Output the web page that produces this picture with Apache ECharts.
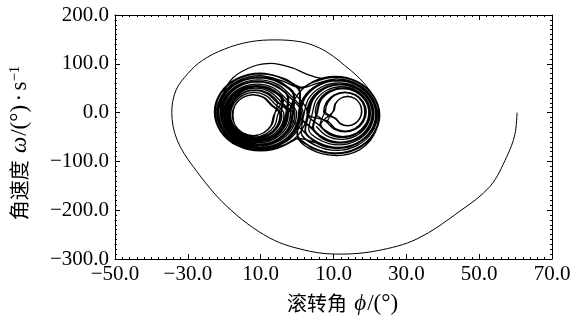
<!DOCTYPE html>
<html>
<head>
<meta charset="utf-8">
<script src="https://cdn.jsdelivr.net/npm/echarts@6/dist/echarts.min.js"></script>
<style>
html,body{margin:0;padding:0;background:#fff;}
#chart{width:579px;height:320px;}
</style>
</head>
<body>
<div id="chart"></div>
<script>
// Axis ranges and tick labels (as printed in the reference)
const xMin = -50, xMax = 70, xStep = 20;
const yMin = -300, yMax = 200, yStep = 100;
const xTickLabels = ['−50.0', '−30.0', '10.0', '10.0', '30.0', '50.0', '70.0'];
const yTickLabels = ['−300.0', '−200.0', '−100.0', '0.0', '100.0', '200.0'];

// Trajectory (roll angle phi [deg], angular velocity omega [deg/s])
const spiralIn = [
  [60.4,0],[59.8,-45],[57.6,-90],[53,-151],[44.7,-202],[32.9,-259],[22,-283],[12,-290],
  [3.4,-284],[-7.5,-257],[-19.3,-192],[-28.6,-110],[-33,-55],[-34.4,0],[-33.3,45],[-30,80],
  [-26,107],[-20,130],[-13,145],[-6,149],[1,145],[6,133],[10,115],[13,97],[16.5,75],
  [19.5,50],[21.5,25],[22.6,0],
  [20.89,-44],[16.5,-72.5],[10.5,-83],[4.5,-72.5],[0,-53]
];
const leftPassA = [
  [-3.75,-67.4],[-10,-78],[-16.25,-67.4],[-20.83,-38.5],[-22.5,1],[-20.83,40.5],[-16.25,69.4],[-10,80],[-3.75,69.4],[0.83,40.5],
  [0.76,-0.2],[-0.74,-36],[-4.82,-62.2],[-10.4,-71.8],[-15.98,-62.2],[-20.06,-36],[-21.56,-0.2],[-20.06,35.6],[-15.98,61.8],[-10.4,71.4],[-4.82,61.8],[-0.74,35.6],
  [-0.98,-1.4],[-2.3,-33.5],[-5.89,-57],[-10.8,-65.6],[-15.71,-57],[-19.3,-33.5],[-20.62,-1.4],[-19.3,30.7],[-15.71,54.2],[-10.8,62.8],[-5.89,54.2],[-2.3,30.7],
  [-2.72,-2.6],[-3.86,-31],[-6.96,-51.8],[-11.2,-59.4],[-15.44,-51.8],[-18.54,-31],[-19.68,-2.6],[-18.54,25.8],[-15.44,46.6],[-11.2,54.2],[-6.96,46.6],[-3.86,25.8],
  [-4.46,-3.8],[-5.42,-28.5],[-8.03,-46.6],[-11.6,-53.2],[-15.17,-46.6],[-17.78,-28.5],[-18.74,-3.8],[-17.78,20.9],[-15.17,39],[-11.6,45.6],[-8.03,39],[-5.42,20.9],
  [-6.2,-5],[-6.98,-26],[-9.1,-41.4],[-12,-47],[-14.9,-41.4],[-17.02,-26],[-17.8,-5],[-17.02,16],[-14.9,31.4],[-12,37],[-9.1,31.4],[-6.98,16],
  [-4.2,-4.3],[-5.2,-29],[-7.9,-47.3],[-11.5,-54],[-15.3,-47.3],[-17.9,-28.8],[-18.9,-4],[-17.9,21.4],[-15.2,39.8],[-11.5,46.5],[-7.9,39.8],[-5.2,21.4],
  [-2.4,-2.4],[-3.6,-31.6],[-6.8,-52.6],[-11.1,-60.2],[-15.5,-52.6],[-18.7,-31.4],[-19.9,-2.4],[-18.7,26.6],[-15.5,47.6],[-11.1,55.2],[-6.8,47.6],[-3.6,26.6],
  [-0.6,-1.2],[-2,-34.2],[-5.7,-58],[-10.7,-66.8],[-15.8,-58],[-19.5,-34],[-20.9,-1.2],[-19.5,31.4],[-15.8,55.2],[-10.7,64],[-5.7,55.2],[-2,31.4],
  [1.2,0],[-0.4,-36.8],[-4.6,-63.4],[-10.3,-73.2],[-16.1,-63.4],[-20.3,-36.6],[-21.9,0],[-20.3,36.4],[-16.1,63],[-10.3,72.8],[-4.6,63],[-0.4,36.4],
  [2.8,1.2],[1,-38.8],[-3.6,-68],[-10,-78.6],[-16.4,-68],[-21,-38.8],[-22.7,1.2],[-21,41],[-16.4,70],[-10,80.6],[-3.6,70],[1.5,52]
];
const rightPassA = [
  [4.5,62.5],[10.5,73],[16.5,62.5],[20.89,34],[22.5,-5],[20.89,-44],[16.5,-72.5],[10.5,-83],[4.5,-72.5],[0.11,-44],
  [0.78,-3.4],[2.17,30.8],[5.97,55.8],[11.17,65],[16.37,55.8],[20.17,30.8],[21.56,-3.4],[20.17,-37.6],[16.37,-62.6],[11.17,-71.8],[5.97,-62.6],[2.17,-37.6],
  [3.06,-1.8],[4.24,27.6],[7.45,49.1],[11.84,57],[16.23,49.1],[19.44,27.6],[20.62,-1.8],[19.44,-31.2],[16.23,-52.7],[11.84,-60.6],[7.45,-52.7],[4.24,-31.2],
  [5.34,-0.2],[6.3,24.4],[8.92,42.4],[12.51,49],[16.1,42.4],[18.72,24.4],[19.68,-0.2],[18.72,-24.8],[16.1,-42.8],[12.51,-49.4],[8.92,-42.8],[6.3,-24.8],
  [7.62,1.4],[8.37,21.2],[10.4,35.7],[13.18,41],[15.96,35.7],[17.99,21.2],[18.74,1.4],[17.99,-18.4],[15.96,-32.9],[13.18,-38.2],[10.4,-32.9],[8.37,-18.4],
  [9.9,3],[10.43,18],[11.87,29],[13.85,33],[15.83,29],[17.27,18],[17.8,3],[17.27,-12],[15.83,-23],[13.85,-27],[11.87,-23],[10.43,-12],
  [7.3,1],[8.1,21.8],[10.2,36.6],[13.1,42],[16.1,36.6],[18.2,21.8],[19,1],[18.2,-19.2],[16.1,-34],[13.1,-39.4],[10.2,-34],[8.1,-19.2],
  [5,-0.5],[6,25],[8.7,43.4],[12.4,50.2],[16.2,43.4],[18.9,25],[19.9,-0.5],[18.9,-25.6],[16.2,-44],[12.4,-50.8],[8.7,-44],[6,-25.6],
  [2.7,-2],[3.9,28.4],[7.2,50.4],[11.7,58.4],[16.3,50.4],[19.6,28.4],[20.8,-2],[19.6,-32.4],[16.3,-54.4],[11.7,-62.4],[7.2,-54.4],[3.9,-32.4],
  [0.4,-3.8],[1.8,31.4],[5.7,57],[11,66.4],[16.4,57],[20.3,31.4],[21.7,-3.8],[20.3,-38.6],[16.4,-64.2],[11,-73.6],[5.7,-64.2],[1.8,-38.6],
  [-1.8,-5.4],[-0.1,34.4],[4.4,63.4],[10.5,74],[16.6,63.4],[21,34.4],[22.7,-5.4],[21,-45],[16.6,-74],[10.5,-84.5],[4.4,-74],[0,-54]
];
const leftPassB = [
  [-3.9,-67],[-10.1,-77.5],[-16.3,-67],[-20.9,-38.2],[-22.6,0.6],[-20.9,40],[-16.3,68.8],[-10.1,79.3],[-3.9,68.8],[0.7,40],
  [0.5,-0.6],[-1,-36.2],[-5,-62.6],[-10.5,-72.2],[-16,-62.6],[-20,-36.2],[-21.5,-0.6],[-20,35],[-16,61.4],[-10.5,71],[-5,61.4],[-1,35],
  [-1.3,-1.6],[-2.6,-33.8],[-6.1,-57.4],[-10.9,-66],[-15.7,-57.4],[-19.2,-33.8],[-20.5,-1.6],[-19.2,30.6],[-15.7,54.2],[-10.9,62.8],[-6.1,54.2],[-2.6,30.6],
  [-3.1,-2.8],[-4.2,-30.6],[-7.2,-51],[-11.3,-58.4],[-15.4,-51],[-18.4,-30.6],[-19.5,-2.8],[-18.4,25],[-15.4,45.4],[-11.3,52.8],[-7.2,45.4],[-4.2,25],
  [-6.4,-5.4],[-7.2,-26.4],[-9.3,-41.8],[-12.1,-47.4],[-14.9,-41.8],[-17,-26.4],[-17.6,-5.4],[-17,15.6],[-14.9,31],[-12.1,36.6],[-9.3,31],[-7.2,15.6],
  [-4.7,-3.6],[-5.6,-28.2],[-8.2,-46.2],[-11.7,-52.8],[-15.1,-46.2],[-17.6,-28.2],[-18.6,-3.6],[-17.6,21],[-15.1,39],[-11.7,45.4],[-8.2,39],[-5.6,21],
  [-1.1,-1.4],[-2.4,-33.5],[-6,-57.5],[-10.8,-66.5],[-15.8,-58],[-19.5,-34],[-21,-1],
  [-20.3,38],[-17.5,72],[-12,95],[-7,101],[-1.5,92],[3,78],[7,70],[11,73]
];
const rightPassB = [
  [16.5,63],[20.9,34.5],[22.4,-4.5],[21.1,-46],[17,-77],[11,-88],[4.2,-77],[0,-46],
  [0.9,-3],[2.3,31.2],[6.1,56.2],[11.3,65.4],[16.5,56.2],[20.3,31.2],[21.7,-3],[20.3,-37.2],[16.5,-62.2],[11.3,-71.4],[6.1,-62.2],[2.3,-37.2],
  [3.3,-1.6],[4.5,27.8],[7.7,49.3],[12,57.2],[16.4,49.3],[19.6,27.8],[20.8,-1.6],[19.6,-31],[16.4,-52.5],[12,-60.4],[7.7,-52.5],[4.5,-31],
  [5.6,0],[6.5,24.6],[9.1,42.6],[12.6,49.2],[16.2,42.6],[18.8,24.6],[19.8,0],[18.8,-24.6],[16.2,-42.6],[12.6,-49.2],[9.1,-42.6],[6.5,-24.6],
  [10.1,3.4],[10.6,18.4],[12,29.4],[13.9,33.4],[15.8,29.4],[17.2,18.4],[17.7,3.4],[17.2,-11.6],[15.8,-22.6],[13.9,-26.6],[12,-22.6],[10.6,-11.6],
  [7.8,1.8],[8.5,21.6],[10.5,36],[13.2,41.4],[15.9,36],[17.9,21.6],[18.6,1.8],[17.9,-18],[15.9,-32.6],[13.2,-37.8],[10.5,-32.6],[8.5,-18],
  [2.9,-1.8],[4.1,27.9],[7.3,49.5],[11.8,57.5],[16.2,49.5],[19.4,27.9],[20.6,-1.8],[19.4,-31.4],[16.2,-53],[11.8,-61],[7.3,-53],[4.1,-31.4],
  [0.6,-3.4],[2,31],[5.8,56.1],[11.1,65.3],[16.4,56.1],[20.2,31],[21.6,-3.4],[20.2,-37.9],[16.4,-63],[11.1,-72.2],[5.8,-63],[0.2,-53]
];
const leftPassC = [
  [-3.7,-67.8],[-10,-78.3],[-16.2,-67.8],[-20.8,-38.7],[-22.4,0.8],[-20.8,40.3],[-16.2,69.2],[-10,79.6],[-3.7,69.2],[0.9,40.3],
  [0.6,-0.4],[-0.9,-36.2],[-4.9,-62.4],[-10.4,-72],[-16,-62.4],[-20.1,-36.2],[-21.6,-0.4],[-20.1,35.4],[-16,61.6],[-10.4,71.2],[-4.9,61.6],[-0.9,35.4],
  [-2.5,-2.5],[-3.7,-31.2],[-6.9,-52],[-11.2,-59.6],[-15.5,-52],[-18.6,-31.2],[-19.8,-2.5],[-18.6,26],[-15.5,46.8],[-11.2,54.4],[-6.9,46.8],[-3.7,26],
  [-5.3,-4.4],[-6.2,-27.2],[-8.6,-44],[-11.8,-50.2],[-15,-44],[-17.4,-27.2],[-18.3,-4.4],[-17.4,18.4],[-15,35.2],[-11.8,41.4],[-8.6,35.2],[-6.2,18.4],
  [-3.6,-3.2],[-4.6,-29.8],[-7.5,-49.2],[-11.4,-56.4],[-15.3,-49.2],[-18.2,-29.8],[-19.2,-3.2]
];
const leftPassD = [
  [-18.2,23.4],[-15.3,43],[-11.4,50.2],[-7.5,43],[-4.6,23.4],
  [-1.85,-2],[-3.08,-32.25],[-6.42,-54.4],[-11,-62.5],[-15.58,-54.4],[-18.92,-32.25],[-20.15,-2],[-18.92,28.25],[-15.58,50.4],[-11,58.5],[-6.42,50.4],[-3.08,28.25],
  [-0.11,-0.8],[-1.52,-34.75],[-5.35,-59.6],[-10.6,-68.7],[-15.85,-59.6],[-19.68,-34.75],[-21.09,-0.8],[-19.68,33.15],[-15.85,58],[-10.6,67.1],[-5.35,58],[-1.52,33.15],
  [1.63,0.4],[0.04,-37.25],[-4.28,-64.8],[-10.2,-74.9],[-16.12,-64.8],[-20.44,-37.25],[-22.03,0.4],[-20.44,38.05],[-16.12,65.6],[-10.2,75.7],[-4.28,65.6],[1.2,50]
];
const rightPassC = [
  [5.24,59.2],[10.84,69],[16.44,59.2],[20.54,32.4],[22.04,-4.2],[20.54,-40.8],[16.44,-67.6],[10.84,-77.4],[5.24,-67.6],[1.14,-40.8],
  [1.92,-2.6],[3.2,29.2],[6.71,52.5],[11.5,61],[16.29,52.5],[19.8,29.2],[21.08,-2.6],[19.8,-34.4],[16.29,-57.7],[11.5,-66.2],[6.71,-57.7],[3.2,-34.4],
  [4.2,-1],[5.27,26],[8.18,45.8],[12.17,53],[16.16,45.8],[19.07,26],[20.14,-1],[19.07,-28],[16.16,-47.8],[12.17,-55],[8.18,-47.8],[5.27,-28]
];

// the attractor part continues from the last point of the transient
const attractor = [spiralIn[spiralIn.length - 1]].concat(leftPassA, rightPassA, leftPassB, rightPassB, leftPassC, leftPassD, rightPassC);

const serif = 'Liberation Serif';
const labelSize = 21;
const axisCommon = {
  axisLine: { show: true, onZero: false, lineStyle: { color: '#000', width: 1 } },
  axisTick: { show: true, inside: true, length: 5, lineStyle: { color: '#000', width: 1 } },
  minorTick: { show: true, splitNumber: 10, length: 2, lineStyle: { color: '#000', width: 1 } },
  splitLine: { show: false },
  minorSplitLine: { show: false }
};

const chart = echarts.init(document.getElementById('chart'), null, { renderer: 'canvas' });
chart.setOption({
  animation: false,
  backgroundColor: '#fff',
  grid: { left: 115, right: 27, top: 15, bottom: 60, containLabel: false },
  xAxis: [
    Object.assign({}, axisCommon, {
      type: 'value', position: 'bottom', min: xMin, max: xMax, interval: xStep,
      axisLabel: {
        margin: 5, fontFamily: serif, fontSize: labelSize, color: '#000',
        formatter: function (v) { return xTickLabels[Math.round((v - xMin) / xStep)]; }
      },
      name: '{c|滚转角} {i|ϕ}{n|/(°)}',
      nameLocation: 'middle', nameGap: 33,
      nameTextStyle: {
        padding: [0, 0, 0, 18],
        rich: {
          c: { fontFamily: 'Noto Sans CJK SC', fontSize: 20, color: '#000' },
          i: { fontFamily: serif, fontStyle: 'italic', fontSize: 23, color: '#000', padding: [0, 1, 0, 4] },
          n: { fontFamily: serif, fontSize: 23, color: '#000' }
        }
      }
    }),
    Object.assign({}, axisCommon, {
      type: 'value', position: 'top', min: xMin, max: xMax, interval: xStep,
      axisLabel: { show: false }
    })
  ],
  yAxis: [
    Object.assign({}, axisCommon, {
      type: 'value', position: 'left', min: yMin, max: yMax, interval: yStep,
      axisLabel: {
        margin: 6, fontFamily: serif, fontSize: labelSize, color: '#000',
        formatter: function (v) { return yTickLabels[Math.round((v - yMin) / yStep)]; }
      },
      name: '{c|角速度} {i|ω}{n|/(°)} {n|·} {n|s}{s|−1}',
      nameLocation: 'middle', nameGap: 84,
      nameTextStyle: {
        padding: [0, 12, 0, 0],
        rich: {
          c: { fontFamily: 'Noto Sans CJK SC', fontSize: 20, color: '#000' },
          i: { fontFamily: serif, fontStyle: 'italic', fontSize: 23, color: '#000', padding: [0, 1, 0, 4] },
          n: { fontFamily: serif, fontSize: 23, color: '#000' },
          s: { fontFamily: serif, fontSize: 15, color: '#000', verticalAlign: 'top', padding: [0, 0, 8, 0] }
        }
      }
    }),
    Object.assign({}, axisCommon, {
      type: 'value', position: 'right', min: yMin, max: yMax, interval: yStep,
      axisLabel: { show: false }
    })
  ],
  series: [{
    type: 'line',
    xAxisIndex: 0, yAxisIndex: 0,
    data: spiralIn,
    showSymbol: false,
    smooth: 0.35,
    lineStyle: { color: '#000', width: 1 },
    silent: true
  }, {
    type: 'line',
    xAxisIndex: 0, yAxisIndex: 0,
    data: attractor,
    showSymbol: false,
    smooth: 0.35,
    lineStyle: { color: '#000', width: 1.3 },
    silent: true
  }]
});
</script>
</body>
</html>
